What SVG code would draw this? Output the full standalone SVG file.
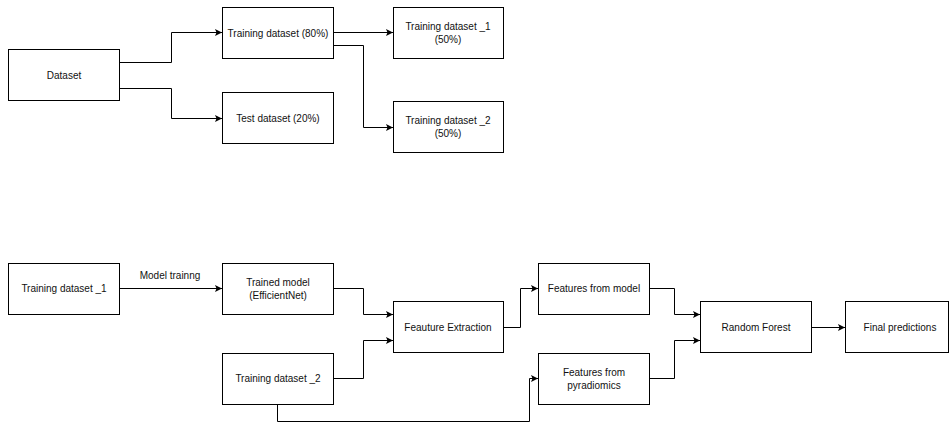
<svg xmlns="http://www.w3.org/2000/svg" width="949" height="423" viewBox="0 0 949 423">
<style>
.box{fill:#fff;stroke:#000;stroke-width:1}
.t{font-family:"Liberation Sans",Arial,sans-serif;font-size:10px;fill:#111;text-anchor:middle;dominant-baseline:central}
.e{fill:none;stroke:#000;stroke-width:1}
</style>
<defs>
<marker id="arr" markerUnits="userSpaceOnUse" markerWidth="8" markerHeight="8" refX="7" refY="3.5" orient="auto">
<path d="M0,0 L7,3.5 L0,7 L1.5,3.5 z" fill="#000"/>
</marker>
</defs>
<rect width="949" height="423" fill="#fff"/>
<g id="connectors">
<path class="e" marker-end="url(#arr)" d="M119,62.5 H171.5 V32.5 H222"/>
<path class="e" marker-end="url(#arr)" d="M119,88.5 H171.5 V118.5 H222"/>
<path class="e" marker-end="url(#arr)" d="M333,32.5 H393"/>
<path class="e" marker-end="url(#arr)" d="M333,45.5 H363.5 V127.5 H393"/>
<path class="e" marker-end="url(#arr)" d="M119,288.5 H222"/>
<path class="e" marker-end="url(#arr)" d="M333,288.5 H363.5 V314.5 H393"/>
<path class="e" marker-end="url(#arr)" d="M333,378.5 H363.5 V340.5 H393"/>
<path class="e" marker-end="url(#arr)" d="M277.5,404 V421.5 H529.5 V378.5 H538"/>
<path class="e" marker-end="url(#arr)" d="M503,327.5 H520.5 V288.5 H538"/>
<path class="e" marker-end="url(#arr)" d="M649,288.5 H674.5 V314.5 H700"/>
<path class="e" marker-end="url(#arr)" d="M649,378.5 H674.5 V340.5 H700"/>
<path class="e" marker-end="url(#arr)" d="M811,327.5 H845"/>
<text class="t" x="170" y="275">Model trainng</text>
</g>
<g id="dataset"><rect class="box" x="8.5" y="49.5" width="111" height="51"/><text class="t" x="64" y="75">Dataset</text></g>
<g id="train80"><rect class="box" x="222.5" y="7.5" width="111" height="51"/><text class="t" x="278" y="33">Training dataset (80%)</text></g>
<g id="test20"><rect class="box" x="222.5" y="92.5" width="111" height="51"/><text class="t" x="278" y="118">Test dataset (20%)</text></g>
<g id="td1"><rect class="box" x="393.5" y="7.5" width="110" height="51"/><text class="t" x="448" y="26">Training dataset _1</text><text class="t" x="448" y="39">(50%)</text></g>
<g id="td2"><rect class="box" x="393.5" y="101.5" width="110" height="51"/><text class="t" x="448" y="120">Training dataset _2</text><text class="t" x="448" y="133">(50%)</text></g>
<g id="b_td1"><rect class="box" x="8.5" y="263.5" width="111" height="51"/><text class="t" x="64" y="288">Training dataset _1</text></g>
<g id="trained"><rect class="box" x="222.5" y="263.5" width="111" height="51"/><text class="t" x="278" y="282">Trained model</text><text class="t" x="278" y="295">(EfficientNet)</text></g>
<g id="b_td2"><rect class="box" x="222.5" y="353.5" width="111" height="51"/><text class="t" x="278" y="378">Training dataset _2</text></g>
<g id="fe"><rect class="box" x="393.5" y="301.5" width="110" height="51"/><text class="t" x="448" y="327">Feauture Extraction</text></g>
<g id="ffm"><rect class="box" x="538.5" y="263.5" width="111" height="51"/><text class="t" x="594" y="288">Features from model</text></g>
<g id="ffp"><rect class="box" x="538.5" y="353.5" width="111" height="51"/><text class="t" x="594" y="372">Features from</text><text class="t" x="594" y="385">pyradiomics</text></g>
<g id="rf"><rect class="box" x="700.5" y="301.5" width="111" height="51"/><text class="t" x="756" y="327">Random Forest</text></g>
<g id="fp"><rect class="box" x="845.5" y="301.5" width="103" height="51"/><text class="t" x="900" y="327">Final predictions</text></g>
</svg>
